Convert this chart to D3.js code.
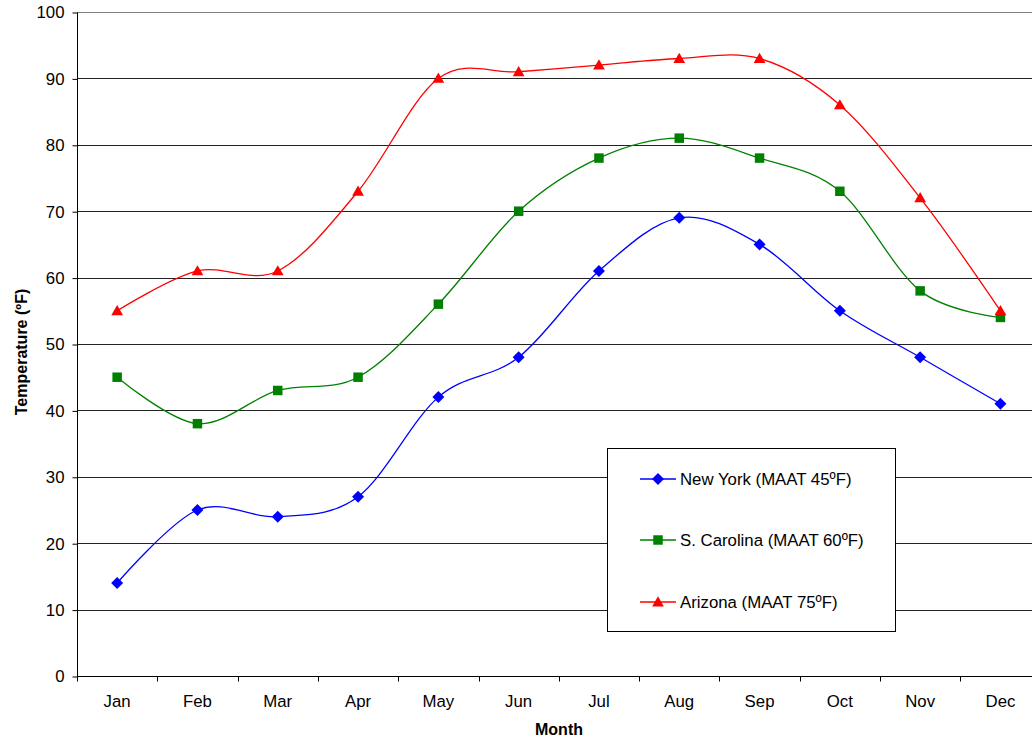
<!DOCTYPE html>
<html><head><meta charset="utf-8">
<script src="https://cdn.jsdelivr.net/npm/d3@7"></script>
<style>body{margin:0;background:#fff;}svg{display:block;font-family:"Liberation Sans",Arial,sans-serif;}</style>
</head><body><svg id="c" width="1032" height="740"></svg>
<script>
const months = ["Jan","Feb","Mar","Apr","May","Jun","Jul","Aug","Sep","Oct","Nov","Dec"];
const newYork = [14,25,24,27,42,48,61,69,65,55,48,41];
const sCarolina = [45,38,43,45,56,70,78,81,78,73,58,54];
const arizona = [55,61,61,73,90,91,92,93,93,86,72,55];
const yTicks = [0,10,20,30,40,50,60,70,80,90,100];
const seriesNames = ["New York (MAAT 45ºF)","S. Carolina (MAAT 60ºF)","Arizona (MAAT 75ºF)"];
const seriesColors = ["#0000FF","#008000","#FF0000"];

const FS = "16.8px";
const svg = d3.select("#c");
const pLeft = 77, pTop = 12, pBottom = 676, pRight = 77 + 12*80.3;
const x = d3.scaleBand().domain(months).range([pLeft, pRight]);
const y = d3.scaleLinear().domain([0,100]).range([pBottom, pTop]);

// gridlines
svg.append("g").selectAll("line").data(yTicks.filter(d=>d>0)).join("line")
  .attr("x1", pLeft).attr("x2", pRight)
  .attr("y1", d=>Math.round(y(d))+0.5).attr("y2", d=>Math.round(y(d))+0.5)
  .attr("stroke", d=>d===100?"#808080":"#222").attr("stroke-width",1);

// y axis
const ya = svg.append("g").attr("transform",`translate(${pLeft+0.5},0.5)`)
  .call(d3.axisLeft(y).tickValues(yTicks).tickSize(5).tickPadding(8));
ya.select(".domain").attr("stroke","#000").attr("d",`M0,${y(100)}V${y(0)}`);
ya.selectAll(".tick line").attr("stroke","#000");
ya.selectAll(".tick text").attr("font-size",FS).attr("fill","#000").attr("font-family","Liberation Sans, Arial, sans-serif");

// x axis
const xa = svg.append("g").attr("transform",`translate(0,${Math.round(pBottom)+0.5})`);
xa.append("line").attr("x1",pLeft).attr("x2",pRight).attr("stroke","#000");
const xt = d3.range(0,13).map(i=>pLeft + i*x.bandwidth());
xa.selectAll("line.t").data(xt).join("line").attr("class","t")
  .attr("x1",d=>Math.round(d)+0.5).attr("x2",d=>Math.round(d)+0.5).attr("y1",0).attr("y2",5).attr("stroke","#000");
xa.selectAll("text").data(months).join("text")
  .attr("x",d=>x(d)+x.bandwidth()/2).attr("y",30)
  .attr("text-anchor","middle").attr("font-size",FS).text(d=>d);

// axis titles
svg.append("text").attr("x",559).attr("y",735).attr("text-anchor","middle")
  .attr("font-size","16px").attr("font-weight","bold").text("Month");
svg.append("text").attr("transform","translate(27,352) rotate(-90)").attr("text-anchor","middle")
  .attr("font-size","16px").attr("font-weight","bold").text("Temperature (ºF)");

// series
const allSeries = [newYork, sCarolina, arizona];
const line = d3.line().x((d,i)=>x(months[i])+x.bandwidth()/2).y(d=>y(d)).curve(d3.curveCardinal.tension(0));
allSeries.forEach((s,k)=>{
  svg.append("path").datum(s).attr("d",line).attr("fill","none")
    .attr("stroke",seriesColors[k]).attr("stroke-width",1.3);
});
const symPath = [
  d3.symbol().type(d3.symbolSquare).size(72)(),
  d3.symbol().type(d3.symbolSquare).size(90)(),
  d3.symbol().type(d3.symbolTriangle).size(60)()
];
const symXf = (k,cx,cy)=> k===0 ? `translate(${cx},${cy}) rotate(45)` : k===2 ? `translate(${cx},${cy+1})` : `translate(${cx},${cy})`;
allSeries.forEach((s,k)=>{
  svg.append("g").selectAll("path").data(s).join("path")
    .attr("d",symPath[k])
    .attr("transform",(d,i)=>symXf(k, x(months[i])+x.bandwidth()/2, y(d)))
    .attr("fill",seriesColors[k]);
});

// legend
const lg = svg.append("g");
lg.append("rect").attr("x",607.5).attr("y",448.5).attr("width",288).attr("height",183)
  .attr("fill","#fff").attr("stroke","#000").attr("stroke-width",1);
const ly = [479,540,602];
seriesNames.forEach((n,k)=>{
  lg.append("line").attr("x1",640).attr("x2",676).attr("y1",ly[k]).attr("y2",ly[k])
    .attr("stroke",seriesColors[k]).attr("stroke-width",1.3);
  lg.append("path").attr("d",symPath[k]).attr("transform",symXf(k,658,ly[k])).attr("fill",seriesColors[k]);
  lg.append("text").attr("x",680).attr("y",ly[k]+6).attr("font-size",FS).text(n);
});
</script></body></html>
